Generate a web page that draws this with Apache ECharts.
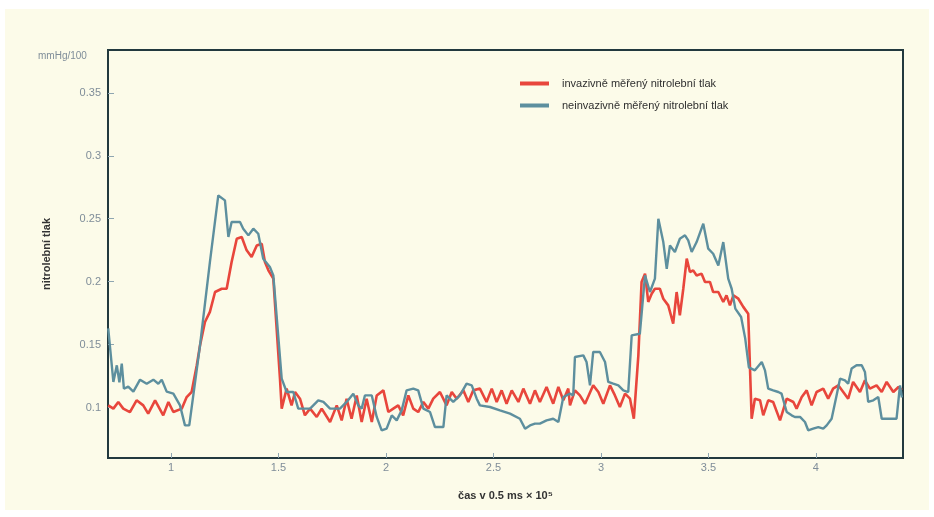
<!DOCTYPE html>
<html>
<head>
<meta charset="utf-8">
<script src="https://cdn.jsdelivr.net/npm/echarts@6/dist/echarts.min.js"></script>
<style>
  html, body { margin: 0; padding: 0; background: #ffffff; }
  #bg { position: absolute; left: 5px; top: 9px; width: 924px; height: 501px; background: #fcfbe9; }
  #chart { position: absolute; left: 0; top: 0; width: 934px; height: 517px; }
</style>
</head>
<body>
<div id="bg"></div>
<div id="chart"></div>
<script>
// ---- data ----
const seriesNames = ['invazivně měřený nitrolební tlak', 'neinvazivně měřený nitrolební tlak'];
const xTicks = [1, 1.5, 2, 2.5, 3, 3.5, 4];
const yTicks = [0.1, 0.15, 0.2, 0.25, 0.3, 0.35];

const redT = [0.708,0.732,0.755,0.778,0.809,0.84,0.871,0.894,0.926,0.964,0.988,1.011,1.05,1.073,1.096,1.12,1.135,1.158,1.181,1.205,1.236,1.259,1.282,1.306,1.329,1.352,1.375,1.399,1.422,1.437,1.453,1.476,1.507,1.515,1.538,1.561,1.577,1.6,1.623,1.647,1.678,1.701,1.74,1.771,1.794,1.817,1.84,1.864,1.887,1.91,1.934,1.957,1.988,2.011,2.034,2.057,2.08,2.104,2.127,2.15,2.174,2.197,2.22,2.251,2.282,2.306,2.329,2.36,2.383,2.406,2.437,2.468,2.492,2.515,2.538,2.561,2.585,2.616,2.639,2.67,2.693,2.716,2.747,2.778,2.802,2.825,2.848,2.856,2.879,2.902,2.926,2.964,2.988,3.011,3.042,3.065,3.088,3.112,3.135,3.153,3.174,3.189,3.205,3.22,3.236,3.251,3.274,3.29,3.313,3.336,3.352,3.367,3.383,3.399,3.414,3.429,3.445,3.468,3.484,3.507,3.522,3.546,3.569,3.584,3.6,3.616,3.639,3.662,3.685,3.701,3.716,3.74,3.755,3.778,3.801,3.833,3.864,3.895,3.91,3.934,3.957,3.98,4.003,4.034,4.057,4.08,4.104,4.127,4.15,4.173,4.205,4.228,4.251,4.282,4.306,4.329,4.36,4.384,4.4];
const redV = [0.1018,0.0992,0.1045,0.0992,0.0965,0.1058,0.1018,0.0952,0.1058,0.0939,0.1045,0.0965,0.0992,0.1084,0.1124,0.1336,0.1494,0.168,0.176,0.1918,0.1944,0.1944,0.2156,0.2341,0.2355,0.2249,0.2196,0.2288,0.2302,0.2156,0.209,0.2024,0.123,0.0992,0.1151,0.1018,0.1124,0.1071,0.0939,0.0992,0.0926,0.0992,0.0886,0.1018,0.0899,0.1071,0.0912,0.1097,0.0886,0.1071,0.0886,0.1097,0.1137,0.0965,0.0992,0.1018,0.0939,0.1097,0.0992,0.0965,0.1045,0.0992,0.1071,0.1124,0.1018,0.1124,0.1071,0.1137,0.1045,0.1137,0.1151,0.1045,0.1151,0.1045,0.1137,0.1031,0.1137,0.1045,0.1151,0.1031,0.1137,0.1045,0.1164,0.1031,0.1164,0.1058,0.1151,0.1018,0.1137,0.1097,0.1031,0.1177,0.1124,0.1031,0.1177,0.1097,0.1005,0.1111,0.1071,0.0912,0.1415,0.1998,0.2064,0.1839,0.1905,0.1944,0.1944,0.1865,0.1812,0.1667,0.1918,0.1733,0.1944,0.2183,0.2077,0.209,0.205,0.2064,0.1998,0.1998,0.1918,0.1918,0.1839,0.1891,0.1812,0.1891,0.1865,0.18,0.1746,0.0912,0.1071,0.1058,0.0939,0.1058,0.1045,0.0899,0.1071,0.1045,0.0992,0.1084,0.1137,0.1018,0.1124,0.1151,0.1071,0.1151,0.1177,0.1124,0.1071,0.1204,0.1124,0.1217,0.1151,0.1177,0.1124,0.1204,0.1124,0.1164,0.114];

const tealT = [0.708,0.732,0.748,0.76,0.771,0.781,0.801,0.825,0.856,0.887,0.918,0.941,0.957,0.98,1.011,1.042,1.065,1.085,1.135,1.181,1.22,1.251,1.267,1.282,1.321,1.336,1.36,1.383,1.406,1.429,1.46,1.476,1.515,1.538,1.569,1.592,1.6,1.647,1.685,1.709,1.74,1.786,1.817,1.848,1.871,1.887,1.902,1.934,1.957,1.98,2.003,2.027,2.05,2.073,2.096,2.127,2.15,2.174,2.205,2.228,2.267,2.282,2.313,2.344,2.375,2.399,2.422,2.437,2.484,2.53,2.577,2.623,2.647,2.67,2.693,2.716,2.747,2.778,2.802,2.825,2.856,2.871,2.879,2.918,2.933,2.949,2.964,2.995,3.019,3.034,3.057,3.081,3.104,3.127,3.143,3.181,3.205,3.228,3.251,3.267,3.29,3.306,3.321,3.344,3.367,3.391,3.406,3.422,3.445,3.476,3.499,3.522,3.546,3.569,3.592,3.608,3.625,3.652,3.671,3.688,3.716,3.748,3.763,3.778,3.801,3.825,3.84,3.864,3.887,3.902,3.926,3.949,3.964,3.987,4.011,4.034,4.05,4.073,4.096,4.112,4.135,4.15,4.166,4.189,4.213,4.228,4.243,4.267,4.29,4.306,4.329,4.36,4.375,4.391,4.4];
const tealV = [0.163,0.1204,0.1336,0.12,0.135,0.115,0.1167,0.1127,0.1222,0.119,0.1222,0.119,0.1222,0.1127,0.1111,0.1018,0.0859,0.0859,0.1494,0.2156,0.2685,0.2646,0.2355,0.2474,0.2474,0.2421,0.2368,0.2421,0.2381,0.2183,0.2117,0.205,0.123,0.1124,0.1124,0.0992,0.1005,0.0992,0.1058,0.1045,0.0992,0.0992,0.1045,0.1111,0.1018,0.0992,0.1097,0.1097,0.0926,0.082,0.0833,0.0939,0.0899,0.0978,0.1137,0.1151,0.1137,0.0992,0.0965,0.0846,0.0846,0.1097,0.1045,0.1097,0.119,0.1177,0.1071,0.1018,0.1005,0.0978,0.0952,0.0912,0.0833,0.0859,0.0873,0.0873,0.0899,0.0912,0.0886,0.1084,0.1111,0.1097,0.1402,0.1415,0.1362,0.1177,0.1442,0.1442,0.1362,0.1204,0.119,0.1177,0.1137,0.1124,0.1574,0.1587,0.205,0.1918,0.2024,0.25,0.2315,0.2103,0.2288,0.2236,0.2341,0.2368,0.2328,0.2236,0.2315,0.2461,0.2262,0.2222,0.2129,0.2315,0.2024,0.1944,0.1786,0.172,0.155,0.132,0.1296,0.1362,0.1296,0.1151,0.1137,0.1124,0.1111,0.0965,0.0939,0.0926,0.0926,0.0886,0.082,0.0833,0.0846,0.0833,0.0859,0.0912,0.1097,0.123,0.1217,0.119,0.131,0.1336,0.1336,0.1283,0.1045,0.1058,0.1084,0.0912,0.0912,0.0912,0.0912,0.1177,0.108];

function pairs(t, v) { return t.map((x, i) => [x, v[i]]); }

const chart = echarts.init(document.getElementById('chart'), null, { renderer: 'canvas' });
const labelColor = '#7f8d99';
const frameColor = '#22393e';
const tickColor = '#8fa6b1';
const fontFam = '"Liberation Sans", Arial, sans-serif';

chart.setOption({
  backgroundColor: 'transparent',
  animation: false,
  grid: { left: 108, right: 31, top: 50, bottom: 59, show: true, borderColor: frameColor, borderWidth: 2, backgroundColor: 'transparent' },
  legend: {
    data: seriesNames,
    orient: 'vertical',
    left: 515, top: 73,
    itemWidth: 29, itemHeight: 4, itemGap: 11,
    icon: 'rect',
    textStyle: { fontSize: 11, color: '#2f2f2f', fontFamily: fontFam, padding: [0, 0, 0, 8] }
  },
  graphic: [{
    type: 'text', left: 38, top: 51,
    style: { text: 'mmHg/100', fontSize: 10, fill: labelColor, fontFamily: fontFam }
  }],
  xAxis: {
    type: 'value', min: 0.707, max: 4.405,
    name: 'čas v 0.5 ms × 10⁵', nameLocation: 'middle', nameGap: 32,
    nameTextStyle: { fontSize: 11, color: '#333', fontWeight: 'bold', fontFamily: fontFam },
    axisLine: { show: false },
    splitLine: { show: false },
    axisTick: { show: true, inside: true, length: 5, lineStyle: { color: tickColor, width: 1 }, customValues: xTicks },
    axisLabel: { color: labelColor, fontSize: 11, margin: 4, fontFamily: fontFam, customValues: xTicks, formatter: v => String(v) }
  },
  yAxis: {
    type: 'value', min: 0.06, max: 0.384,
    name: 'nitrolební tlak', nameLocation: 'middle', nameRotate: 90, nameGap: 56,
    nameTextStyle: { fontSize: 11, color: '#333', fontWeight: 'bold', fontFamily: fontFam },
    axisLine: { show: false },
    splitLine: { show: false },
    axisTick: { show: true, inside: true, length: 6, lineStyle: { color: tickColor, width: 1 }, customValues: yTicks },
    axisLabel: { color: labelColor, fontSize: 11, margin: 7, fontFamily: fontFam, customValues: yTicks, formatter: v => String(v) }
  },
  series: [
    { name: seriesNames[0], type: 'line', data: pairs(redT, redV), showSymbol: false, symbol: 'none',
      lineStyle: { color: '#e8463c', width: 2.6 }, itemStyle: { color: '#e8463c' } },
    { name: seriesNames[1], type: 'line', data: pairs(tealT, tealV), showSymbol: false, symbol: 'none',
      lineStyle: { color: '#5d8f9e', width: 2.4 }, itemStyle: { color: '#5d8f9e' } }
  ]
});
</script>
</body>
</html>
